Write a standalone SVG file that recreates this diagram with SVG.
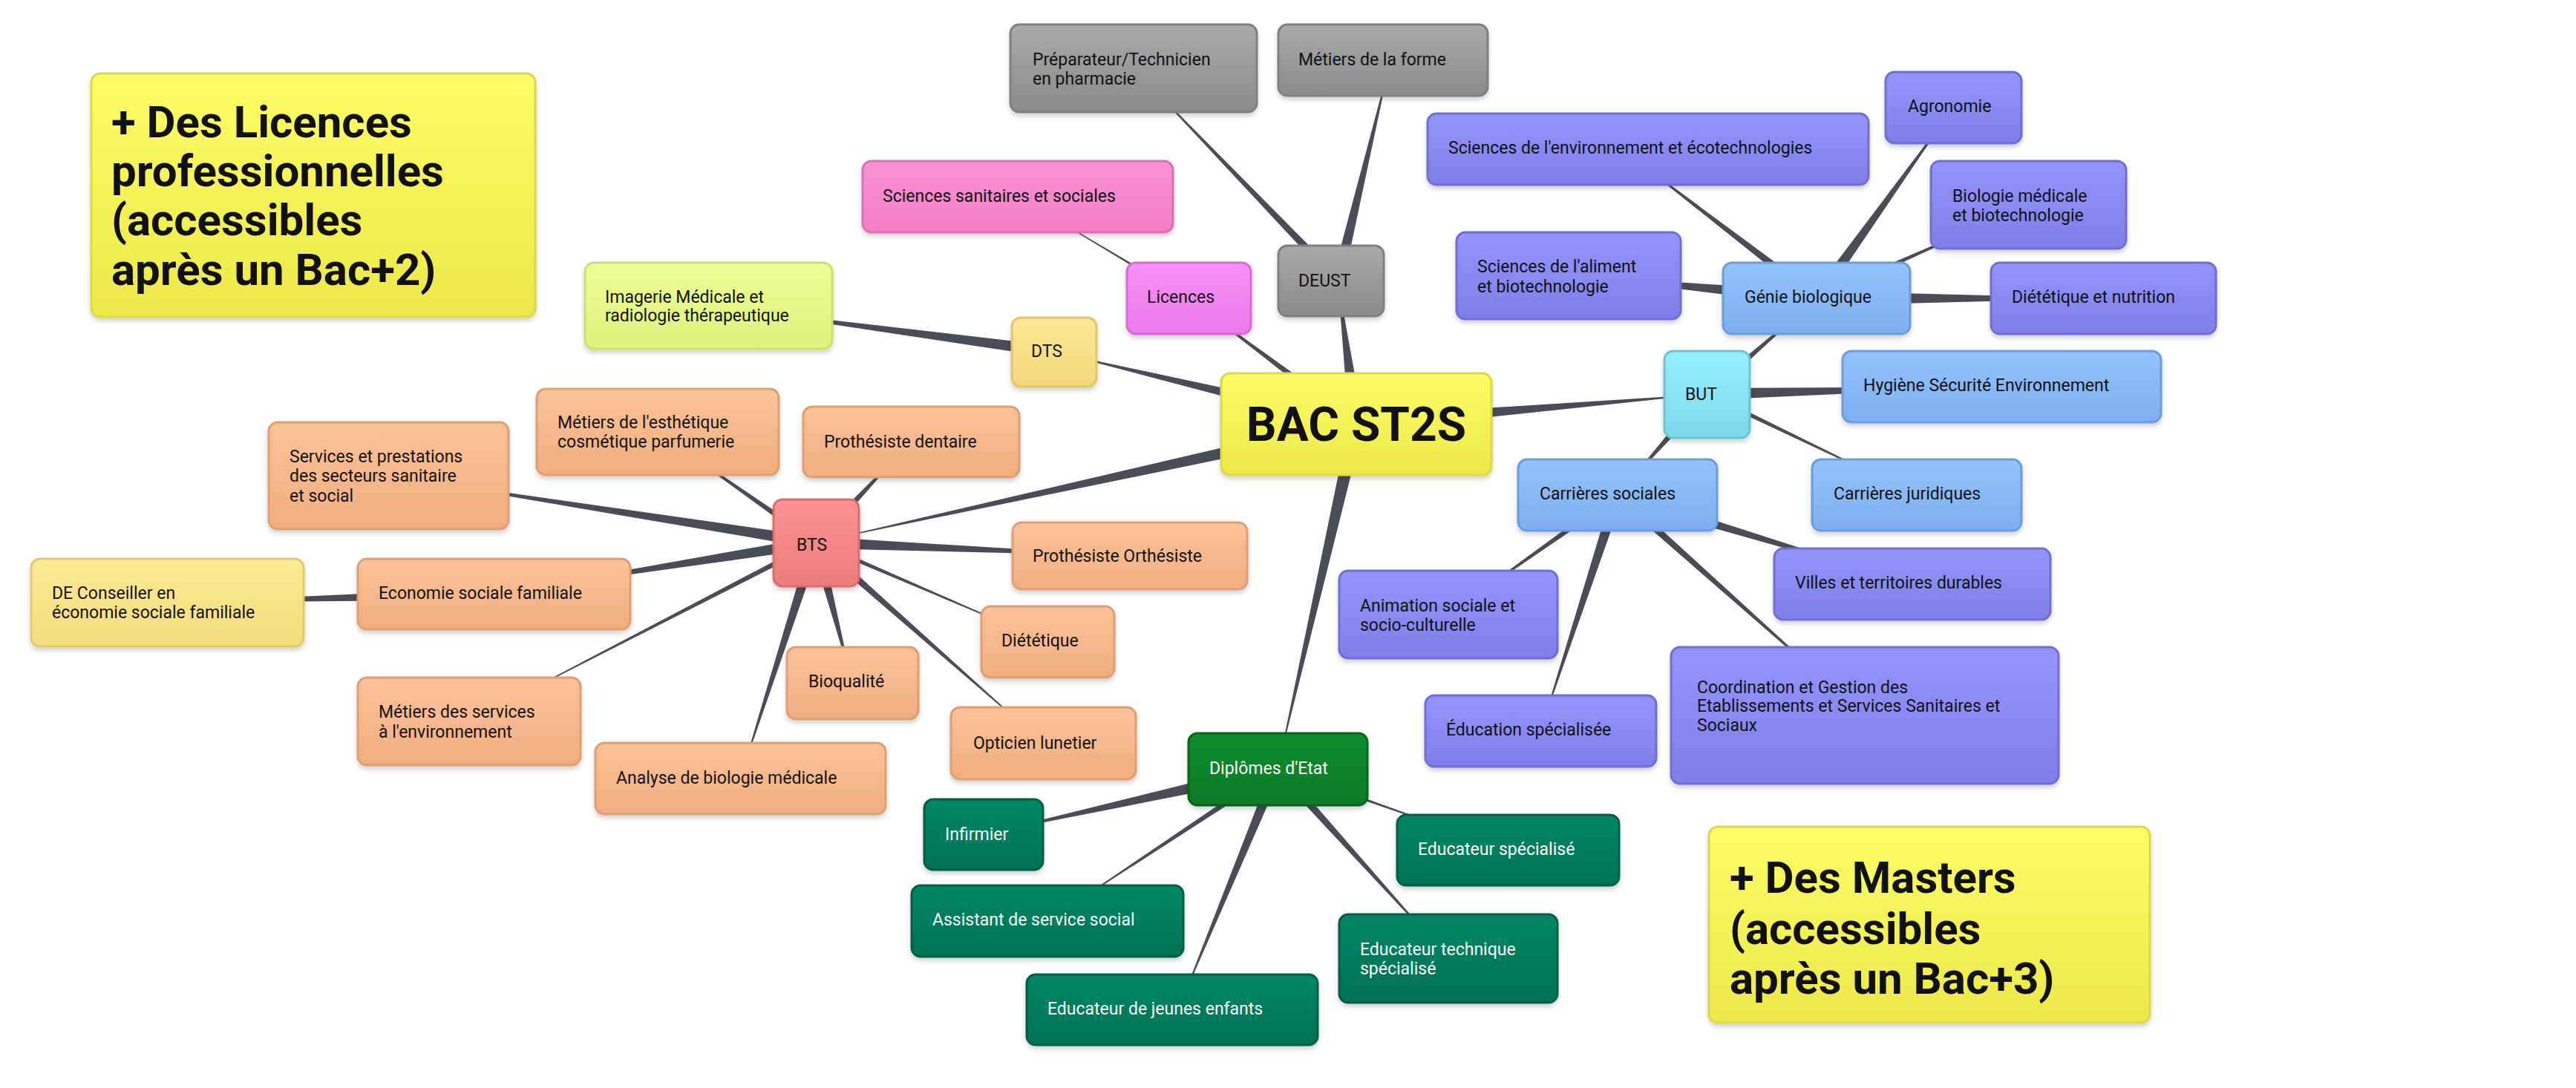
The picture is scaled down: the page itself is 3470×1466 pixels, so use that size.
<svg xmlns="http://www.w3.org/2000/svg" width="3470" height="1466" viewBox="0 0 3470 1466">
<defs>
<linearGradient id="gGray" x1="0" y1="0" x2="0" y2="1"><stop offset="0" stop-color="#a9a9a9"/><stop offset="1" stop-color="#8b8b8b"/></linearGradient>
<linearGradient id="gPink" x1="0" y1="0" x2="0" y2="1"><stop offset="0" stop-color="#fb92d4"/><stop offset="1" stop-color="#f27ec4"/></linearGradient>
<linearGradient id="gMag" x1="0" y1="0" x2="0" y2="1"><stop offset="0" stop-color="#f890f8"/><stop offset="1" stop-color="#ea7aea"/></linearGradient>
<linearGradient id="gLime" x1="0" y1="0" x2="0" y2="1"><stop offset="0" stop-color="#eefe96"/><stop offset="1" stop-color="#dcf27c"/></linearGradient>
<linearGradient id="gSand" x1="0" y1="0" x2="0" y2="1"><stop offset="0" stop-color="#fde896"/><stop offset="1" stop-color="#f3d77a"/></linearGradient>
<linearGradient id="gYel" x1="0" y1="0" x2="0" y2="1"><stop offset="0" stop-color="#fdfd66"/><stop offset="1" stop-color="#ece84a"/></linearGradient>
<linearGradient id="gOr" x1="0" y1="0" x2="0" y2="1"><stop offset="0" stop-color="#fcc298"/><stop offset="1" stop-color="#efae80"/></linearGradient>
<linearGradient id="gRed" x1="0" y1="0" x2="0" y2="1"><stop offset="0" stop-color="#fb9292"/><stop offset="1" stop-color="#ec7c7c"/></linearGradient>
<linearGradient id="gCream" x1="0" y1="0" x2="0" y2="1"><stop offset="0" stop-color="#fdec94"/><stop offset="1" stop-color="#f2dc7c"/></linearGradient>
<linearGradient id="gDGreen" x1="0" y1="0" x2="0" y2="1"><stop offset="0" stop-color="#0c8d30"/><stop offset="1" stop-color="#087a26"/></linearGradient>
<linearGradient id="gTeal" x1="0" y1="0" x2="0" y2="1"><stop offset="0" stop-color="#038764"/><stop offset="1" stop-color="#027255"/></linearGradient>
<linearGradient id="gPur" x1="0" y1="0" x2="0" y2="1"><stop offset="0" stop-color="#9494fc"/><stop offset="1" stop-color="#7f7fe8"/></linearGradient>
<linearGradient id="gBlue" x1="0" y1="0" x2="0" y2="1"><stop offset="0" stop-color="#94c2fd"/><stop offset="1" stop-color="#7eaeef"/></linearGradient>
<linearGradient id="gCyan" x1="0" y1="0" x2="0" y2="1"><stop offset="0" stop-color="#94f0fd"/><stop offset="1" stop-color="#7ad9ea"/></linearGradient>
<filter id="sh" x="-10%" y="-10%" width="120%" height="130%"><feDropShadow dx="0" dy="4" stdDeviation="3" flood-color="#000" flood-opacity="0.18"/></filter>
</defs>
<style>
rect{stroke-width:3;filter:url(#sh)}
text{font-family:Roboto,"Liberation Sans",sans-serif;font-size:23px;fill:#111}
.w{fill:#fff}
.big{font-size:60px;font-weight:bold}
.bac{font-size:64px;font-weight:bold}
.gray{fill:url(#gGray);stroke:#808080}
.pink{fill:url(#gPink);stroke:#e06cb4}
.mag{fill:url(#gMag);stroke:#d86ad8}
.lime{fill:url(#gLime);stroke:#cfe06e}
.sand{fill:url(#gSand);stroke:#e2c46a}
.yel{fill:url(#gYel);stroke:#dcd846}
.or{fill:url(#gOr);stroke:#e09e72}
.red{fill:url(#gRed);stroke:#dc6c6c}
.cream{fill:url(#gCream);stroke:#e2ca6c}
.dg{fill:url(#gDGreen);stroke:#06661e}
.teal{fill:url(#gTeal);stroke:#025e46}
.pur{fill:url(#gPur);stroke:#6e6ed6}
.blue{fill:url(#gBlue);stroke:#6c9cdc}
.cyan{fill:url(#gCyan);stroke:#66c6d8}
#edges polygon{fill:#4a4d58}
</style>
<g id="edges">
<!-- BAC center 1827,571 -->
<polygon points="1827,561 1827,581 1420,474"/>
<polygon points="1817,571 1837,571 1601,402"/>
<polygon points="1817,571 1837,571 1802,378"/>
<polygon points="1827,561 1827,581 2299,531"/>
<polygon points="1827,561 1827,581 1099,731"/>
<polygon points="1817,571 1837,571 1721,1036"/>
<!-- DEUST 1802,378 -->
<polygon points="1794,378 1810,378 1527,92"/>
<polygon points="1794,378 1810,378 1873,81"/>
<!-- Licences 1601,402 -->
<polygon points="1595,396 1607,408 1371,265"/>
<!-- DTS 1420,474 -->
<polygon points="1420,466 1420,482 954,412"/>
<!-- BTS 1099,731 -->
<polygon points="1091,731 1107,731 886,582"/>
<polygon points="1091,731 1107,731 1227,595"/>
<polygon points="1099,723 1099,739 523,641"/>
<polygon points="1099,723 1099,739 1522,749"/>
<polygon points="1099,723 1099,739 665,800"/>
<polygon points="1091,731 1107,731 1411,865"/>
<polygon points="1091,731 1107,731 1148,920"/>
<polygon points="1091,731 1107,731 632,972"/>
<polygon points="1091,731 1107,731 1405,1001"/>
<polygon points="1091,731 1107,731 997,1049"/>
<!-- Eco 665,800 -->
<polygon points="665,792 665,808 225,812"/>
<!-- BUT 2299,531 -->
<polygon points="2291,531 2307,531 2447,402"/>
<polygon points="2299,523 2299,539 2696,521"/>
<polygon points="2291,531 2307,531 2179,667"/>
<polygon points="2291,531 2307,531 2582,667"/>
<!-- Génie 2447,402 -->
<polygon points="2437,402 2457,402 2185,201"/>
<polygon points="2437,402 2457,402 2631,145"/>
<polygon points="2437,402 2457,402 2732,276"/>
<polygon points="2447,392 2447,412 2113,371"/>
<polygon points="2447,392 2447,412 2833,402"/>
<!-- Carrières sociales 2179,667 -->
<polygon points="2171,667 2187,667 1951,828"/>
<polygon points="2171,667 2187,667 2075,985"/>
<polygon points="2179,659 2179,675 2576,787"/>
<polygon points="2171,667 2187,667 2512,964"/>
<!-- Diplômes 1721,1036 -->
<polygon points="1721,1026 1721,1046 1325,1124"/>
<polygon points="1713,1036 1729,1036 1411,1241"/>
<polygon points="1713,1036 1729,1036 1587,1360"/>
<polygon points="1713,1036 1729,1036 2031,1145"/>
<polygon points="1713,1036 1729,1036 1951,1291"/>
</g>
<g id="n-lic-pro"><rect class="yel" x="123" y="99" width="598" height="328" rx="12"/><text class="big" x="150" y="185"> + Des Licences</text><text class="big" x="150" y="251">professionnelles</text><text class="big" x="150" y="317">(accessibles</text><text class="big" x="150" y="384">après un Bac+2)</text></g>
<g id="n-masters"><rect class="yel" x="2302" y="1114" width="594" height="264" rx="12"/><text class="big" x="2330" y="1203"> + Des Masters</text><text class="big" x="2330" y="1272">(accessibles</text><text class="big" x="2330" y="1339">après un Bac+3)</text></g>
<g id="n-bac"><rect class="yel" x="1645" y="503" width="364" height="137" rx="12"/><text class="bac" x="1827" y="594" text-anchor="middle">BAC ST2S</text></g>
<g id="n-prep"><rect class="gray" x="1361" y="33" width="332" height="118" rx="12"/><text x="1391" y="88">Préparateur/Technicien</text><text x="1391" y="114">en pharmacie</text></g>
<g id="n-forme"><rect class="gray" x="1722" y="33" width="282" height="96" rx="12"/><text x="1749" y="88">Métiers de la forme</text></g>
<g id="n-deust"><rect class="gray" x="1722" y="331" width="142" height="95" rx="12"/><text x="1749" y="386">DEUST</text></g>
<g id="n-ss"><rect class="pink" x="1162" y="217" width="418" height="96" rx="12"/><text x="1189" y="272">Sciences sanitaires et sociales</text></g>
<g id="n-licences"><rect class="mag" x="1518" y="354" width="167" height="96" rx="12"/><text x="1545" y="408">Licences</text></g>
<g id="n-imagerie"><rect class="lime" x="788" y="354" width="333" height="116" rx="12"/><text x="815" y="408">Imagerie Médicale et</text><text x="815" y="433">radiologie thérapeutique</text></g>
<g id="n-dts"><rect class="sand" x="1363" y="428" width="114" height="93" rx="12"/><text x="1389" y="481">DTS</text></g>
<g id="n-esth"><rect class="or" x="723" y="524" width="326" height="116" rx="12"/><text x="751" y="577">Métiers de l'esthétique</text><text x="751" y="603">cosmétique parfumerie</text></g>
<g id="n-dent"><rect class="or" x="1082" y="548" width="291" height="95" rx="12"/><text x="1110" y="603">Prothésiste dentaire</text></g>
<g id="n-serv"><rect class="or" x="362" y="569" width="323" height="144" rx="12"/><text x="390" y="623">Services et prestations</text><text x="390" y="649">des secteurs sanitaire</text><text x="390" y="676">et social</text></g>
<g id="n-bts"><rect class="red" x="1042" y="673" width="115" height="117" rx="12"/><text x="1073" y="742">BTS</text></g>
<g id="n-ortho"><rect class="or" x="1364" y="704" width="316" height="90" rx="12"/><text x="1391" y="757">Prothésiste Orthésiste</text></g>
<g id="n-decesf"><rect class="cream" x="42" y="753" width="367" height="118" rx="12"/><text x="70" y="807">DE Conseiller en</text><text x="70" y="833">économie sociale familiale</text></g>
<g id="n-esf"><rect class="or" x="482" y="753" width="367" height="95" rx="12"/><text x="510" y="807">Economie sociale familiale</text></g>
<g id="n-diet"><rect class="or" x="1322" y="817" width="179" height="96" rx="12"/><text x="1349" y="871">Diététique</text></g>
<g id="n-bioq"><rect class="or" x="1060" y="872" width="177" height="97" rx="12"/><text x="1089" y="926">Bioqualité</text></g>
<g id="n-menv"><rect class="or" x="482" y="913" width="300" height="118" rx="12"/><text x="510" y="967">Métiers des services</text><text x="510" y="994">à l'environnement</text></g>
<g id="n-opt"><rect class="or" x="1281" y="953" width="249" height="97" rx="12"/><text x="1311" y="1009">Opticien lunetier</text></g>
<g id="n-abm"><rect class="or" x="802" y="1001" width="391" height="96" rx="12"/><text x="830" y="1056">Analyse de biologie médicale</text></g>
<g id="n-de"><rect class="dg" x="1601" y="988" width="241" height="97" rx="12"/><text class="w" x="1629" y="1043">Diplômes d'Etat</text></g>
<g id="n-inf"><rect class="teal" x="1245" y="1077" width="160" height="95" rx="12"/><text class="w" x="1273" y="1132">Infirmier</text></g>
<g id="n-ass"><rect class="teal" x="1228" y="1193" width="366" height="96" rx="12"/><text class="w" x="1256" y="1247">Assistant de service social</text></g>
<g id="n-eje"><rect class="teal" x="1383" y="1313" width="392" height="95" rx="12"/><text class="w" x="1411" y="1367">Educateur de jeunes enfants</text></g>
<g id="n-es"><rect class="teal" x="1882" y="1098" width="299" height="95" rx="12"/><text class="w" x="1910" y="1152">Educateur spécialisé</text></g>
<g id="n-ets"><rect class="teal" x="1804" y="1232" width="294" height="119" rx="12"/><text class="w" x="1832" y="1287">Educateur technique</text><text class="w" x="1832" y="1313">spécialisé</text></g>
<g id="n-agro"><rect class="pur" x="2540" y="97" width="183" height="96" rx="12"/><text x="2570" y="151">Agronomie</text></g>
<g id="n-senv"><rect class="pur" x="1923" y="153" width="594" height="96" rx="12"/><text x="1951" y="207">Sciences de l'environnement et écotechnologies</text></g>
<g id="n-biomed"><rect class="pur" x="2601" y="217" width="263" height="118" rx="12"/><text x="2630" y="272">Biologie médicale</text><text x="2630" y="298">et biotechnologie</text></g>
<g id="n-salim"><rect class="pur" x="1962" y="313" width="302" height="117" rx="12"/><text x="1990" y="367">Sciences de l'aliment</text><text x="1990" y="394">et biotechnologie</text></g>
<g id="n-genie"><rect class="blue" x="2321" y="354" width="252" height="96" rx="12"/><text x="2350" y="408">Génie biologique</text></g>
<g id="n-dnut"><rect class="pur" x="2682" y="354" width="303" height="96" rx="12"/><text x="2710" y="408">Diététique et nutrition</text></g>
<g id="n-but"><rect class="cyan" x="2242" y="473" width="115" height="117" rx="12"/><text x="2270" y="539">BUT</text></g>
<g id="n-hse"><rect class="blue" x="2482" y="473" width="429" height="96" rx="12"/><text x="2510" y="527">Hygiène Sécurité Environnement</text></g>
<g id="n-cs"><rect class="blue" x="2045" y="619" width="268" height="96" rx="12"/><text x="2074" y="673">Carrières sociales</text></g>
<g id="n-cj"><rect class="blue" x="2441" y="619" width="282" height="96" rx="12"/><text x="2470" y="673">Carrières juridiques</text></g>
<g id="n-anim"><rect class="pur" x="1804" y="769" width="294" height="118" rx="12"/><text x="1832" y="824">Animation sociale et</text><text x="1832" y="850">socio-culturelle</text></g>
<g id="n-villes"><rect class="pur" x="2390" y="739" width="372" height="96" rx="12"/><text x="2418" y="793">Villes et territoires durables</text></g>
<g id="n-edspe"><rect class="pur" x="1920" y="937" width="311" height="96" rx="12"/><text x="1948" y="991">Éducation spécialisée</text></g>
<g id="n-coord"><rect class="pur" x="2251" y="872" width="522" height="184" rx="12"/><text x="2286" y="934">Coordination et Gestion des</text><text x="2286" y="959">Etablissements et Services Sanitaires et</text><text x="2286" y="985">Sociaux</text></g>
</svg>
